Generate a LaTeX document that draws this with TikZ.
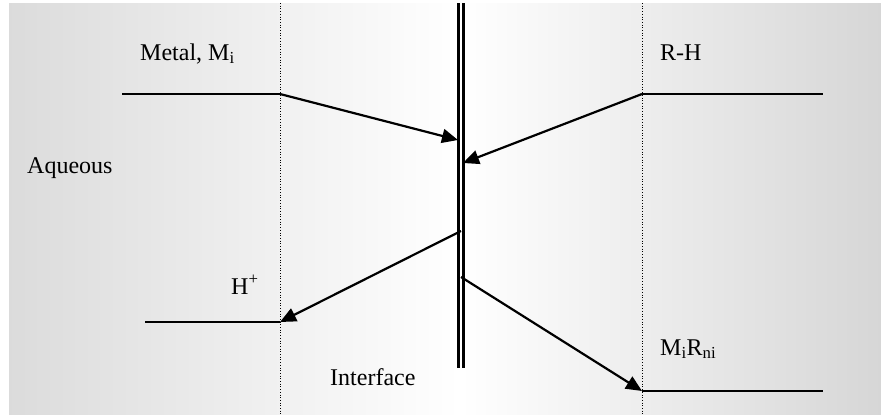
\documentclass[tikz,border=0pt]{standalone}
\usepackage{fontspec}
\setmainfont{Liberation Serif}
\usetikzlibrary{arrows.meta}
\begin{document}
\begin{tikzpicture}[x=1pt,y=-1pt,
  lbl/.style={font=\fontsize{24}{28}\selectfont, inner sep=0pt},
  level/.style={line width=2.2pt},
  flow/.style={line width=2.2pt, -{Triangle[length=16pt,width=14pt]}},
  sep/.style={line width=0.7pt, dotted},
  wall/.style={line width=3pt}]
\useasboundingbox (0,0) rectangle (881,415);
\shade[left color=black!14, right color=white] (9,3) rectangle (460,414);
\shade[left color=white, right color=black!16] (460,3) rectangle (881,414);
% separators
\coordinate (s1t) at (280,3); \coordinate (s1b) at (280,414);
\coordinate (s2t) at (642,3); \coordinate (s2b) at (642,414);
\draw[sep] (s1t) -- (s1b);
\draw[sep] (s2t) -- (s2b);
% interface wall
\coordinate (w1t) at (458.5,3); \coordinate (w1b) at (458.5,368);
\coordinate (w2t) at (463.5,3); \coordinate (w2b) at (463.5,368);
\draw[wall] (w1t) -- (w1b);
\draw[wall] (w2t) -- (w2b);
% levels
\coordinate (m0) at (122,94); \coordinate (m1) at (280,94);
\coordinate (r0) at (823,94); \coordinate (r1) at (642,94);
\coordinate (h0) at (145,322); \coordinate (h1) at (280,322);
\coordinate (p0) at (823,391); \coordinate (p1) at (642,391);
\coordinate (mt) at (458,140);
\coordinate (rt) at (463,163);
\coordinate (hs) at (461,231);
\coordinate (ps) at (461,277);
\draw[level] (m0) -- (m1);
\draw[level] (r1) -- (r0);
\draw[level] (h0) -- (h1);
\draw[level] (p1) -- (p0);
\draw[flow] (m1) -- (mt);
\draw[flow] (r1) -- (rt);
\draw[flow] (hs) -- (h1);
\draw[flow] (ps) -- (p1);
% labels
\node[lbl, anchor=base west] (metal) at (140,60) {Metal, M\textsubscript{i}};
\node[lbl, anchor=base west] (rh) at (660,60) {R-H};
\node[lbl, anchor=base west] (aq) at (27,173) {Aqueous};
\node[lbl, anchor=base west] (hp) at (231,294) {H\textsuperscript{+}};
\node[lbl, anchor=base west] (int) at (330,385) {Interface};
\node[lbl, anchor=base west] (mr) at (660,355) {M\textsubscript{i}R\textsubscript{ni}};
\end{tikzpicture}
\end{document}
